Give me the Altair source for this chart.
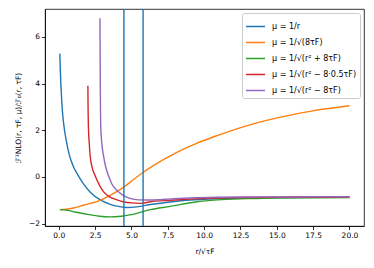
import altair as alt
import pandas as pd

labels = [
    "μ = 1/r",
    "μ = 1/√(8τF)",
    "μ = 1/√(r² + 8τF)",
    "μ = 1/√(r² − 8·0.5τF)",
    "μ = 1/√(r² − 8τF)",
]
colors = ["#1f77b4", "#ff7f0e", "#2ca02c", "#d62728", "#9467bd"]

blue_x = [0.07, 0.12, 0.18, 0.25, 0.35, 0.5, 0.7, 1.0, 1.3, 1.7, 2.2, 2.85, 3.5, 4.0, 4.66, 5.5, 6.3, 7.67, 9.0, 10.9, 13.0, 15.0, 17.5, 20.0]
blue_y = [5.28, 4.3, 3.5, 2.8, 2.2, 1.6, 1.0, 0.45, 0.1, -0.3, -0.68, -0.98, -1.16, -1.25, -1.31, -1.27, -1.18, -1.07, -0.99, -0.93, -0.9, -0.88, -0.87, -0.86]

orange_x = [0.07, 0.5, 1.0, 1.7, 2.85, 4.0, 4.48, 5.0, 5.79, 6.7, 7.67, 8.5, 9.4, 10.67, 12.97, 15.26, 17.56, 20.0]
orange_y = [-1.40, -1.38, -1.33, -1.21, -1.0, -0.62, -0.43, -0.18, 0.19, 0.56, 0.9, 1.17, 1.42, 1.72, 2.2, 2.56, 2.84, 3.05]

green_x = [0.07, 0.6, 1.12, 2.0, 2.8, 3.5, 4.3, 5.1, 6.3, 7.67, 9.4, 10.9, 13.0, 15.0, 17.5, 20.0]
green_y = [-1.40, -1.43, -1.5, -1.6, -1.68, -1.71, -1.68, -1.6, -1.4, -1.26, -1.07, -0.98, -0.93, -0.9, -0.89, -0.88]

red_x = [2.0, 2.01, 2.04, 2.1, 2.15, 2.3, 2.5, 2.84, 3.1, 3.5, 4.0, 4.5, 5.0, 5.6, 6.3, 7.67, 9.0, 10.9, 13.0, 15.0, 17.5, 20.0]
red_y = [3.9, 3.2, 2.1, 1.4, 0.95, 0.4, 0.05, -0.4, -0.65, -0.85, -0.98, -1.07, -1.11, -1.13, -1.06, -1.0, -0.95, -0.9, -0.88, -0.87, -0.86, -0.86]

purple_x = [2.83, 2.84, 2.86, 2.89, 2.95, 3.07, 3.2, 3.41, 3.65, 4.0, 4.4, 4.9, 5.5, 6.3, 7.0, 7.67, 9.0, 10.9, 13.0, 15.0, 17.5, 20.0]
purple_y = [6.79, 5.6, 3.5, 2.1, 1.5, 0.93, 0.5, 0.07, -0.3, -0.57, -0.78, -0.92, -0.98, -0.99, -0.97, -0.94, -0.9, -0.87, -0.86, -0.86, -0.85, -0.85]

vlines = [4.48, 5.8]

x_ticks = [0, 2.5, 5, 7.5, 10, 12.5, 15, 17.5, 20]
y_ticks = [-2, 0, 2, 4, 6]

rows = []
for lab, xs, ys in zip(labels,
                       [blue_x, orange_x, green_x, red_x, purple_x],
                       [blue_y, orange_y, green_y, red_y, purple_y]):
    for x, y in zip(xs, ys):
        rows.append({"r": x, "v": y, "series": lab})
df = pd.DataFrame(rows)
vdf = pd.DataFrame({"r": vlines})

xscale = alt.Scale(domain=[-0.95, 21.0], nice=False, zero=False)
yscale = alt.Scale(domain=[-2.1, 7.19], nice=False, zero=False)

xaxis = alt.Axis(title="r/√τF", values=x_ticks, format=".1f",
                 labelOverlap=False, labelFlush=False, titlePadding=8)

lines = alt.Chart(df).mark_line(strokeWidth=1.4, interpolate="monotone").encode(
    x=alt.X("r:Q", scale=xscale, axis=xaxis),
    y=alt.Y("v:Q", scale=yscale,
            axis=alt.Axis(title="ℱ¹NLO(r, τF, μ)/ℱ₀(r, τF)", values=y_ticks, format="d",
                          labelOverlap=False, labelFlush=False, titlePadding=6)),
    color=alt.Color("series:N", sort=labels,
                    scale=alt.Scale(domain=labels, range=colors),
                    legend=alt.Legend(title=None, orient="none", legendX=197, legendY=4,
                                      symbolType="stroke", symbolSize=361, symbolStrokeWidth=1.5,
                                      labelFontSize=8, labelFont="DejaVu Sans", labelColor="black",
                                      labelOffset=6, rowPadding=1, padding=3, strokeColor="#cccccc",
                                      fillColor="white", cornerRadius=2, labelLimit=200)),
)

rules = alt.Chart(vdf).mark_rule(color="#1f77b4", strokeWidth=1.4).encode(
    x=alt.X("r:Q", scale=xscale, axis=xaxis))

chart = alt.layer(lines, rules).properties(
    width=319, height=217,
    autosize=alt.AutoSizeParams(type="none"),
    padding={"left": 37, "top": 1, "right": 2, "bottom": 30},
).configure_view(stroke="black", strokeWidth=0.8).configure_axis(
    grid=False, domainColor="black", domainWidth=0.8, tickColor="black", tickWidth=0.8,
    tickSize=3.5, labelColor="black", labelFont="DejaVu Sans", labelFontSize=7.5,
    titleFont="DejaVu Sans", titleFontSize=7.5, titleFontWeight="normal", titleColor="black",
    labelPadding=2,
)

chart.save("out.html", embed_options={"renderer": "svg", "actions": False})
